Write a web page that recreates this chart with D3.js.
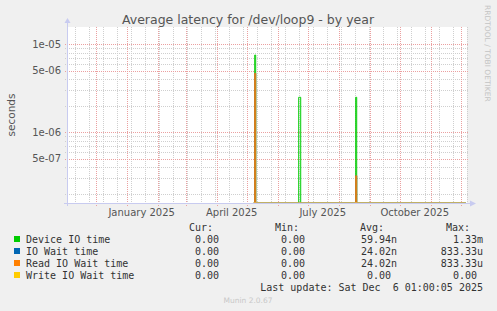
<!DOCTYPE html>
<html><head><meta charset="utf-8">
<script src="https://cdn.jsdelivr.net/npm/d3@7"></script>
<style>
html,body{margin:0;padding:0;background:#f0f0f0;}
svg{display:block;}
text{font-family:"DejaVu Sans",sans-serif;}
.mono{font-family:"DejaVu Sans Mono",monospace;font-size:10px;fill:#333;white-space:pre;}
</style></head>
<body>
<svg id="c" width="497" height="311"></svg>
<script>
// ---- data ----
const title = "Average latency for /dev/loop9 - by year";
const yLabel = "seconds";
const yTickValues = [5e-7, 1e-6, 5e-6, 1e-5];
const yTickLabels = ["5e-07", "1e-06", "5e-06", "1e-05"];
const xTickDates = ["2025-01-16", "2025-04-16", "2025-07-16", "2025-10-16"];
const xTickLabels = ["January 2025", "April 2025", "July 2025", "October 2025"];
const seriesNames = ["Device IO time", "IO Wait time", "Read IO Wait time", "Write IO Wait time"];
const seriesColors = ["#00cc00", "#0066b3", "#ff8000", "#ffcc00"];
const deviceIO = [["2025-05-08",0],["2025-05-09",7.55e-6],["2025-05-10",0],["2025-06-22",2.5e-6],["2025-06-23",2.5e-6],["2025-06-24",0],["2025-08-18",2.5e-6],["2025-08-19",0],["2025-12-06",0]];
const ioWait = [["2025-05-08",0],["2025-05-09",4.68e-6],["2025-05-10",0],["2025-08-18",3.21e-7],["2025-08-19",0],["2025-12-06",0]];
const readWait = [["2025-05-08",0],["2025-05-09",4.68e-6],["2025-05-10",0],["2025-08-18",3.21e-7],["2025-08-19",0],["2025-12-06",0]];
const writeWait = [["2025-05-08",0],["2025-12-06",0]];
const statCur = ["0.00", "0.00", "0.00", "0.00"];
const statMin = ["0.00", "0.00", "0.00", "0.00"];
const statAvg = ["59.94n", "24.02n", "24.02n", "0.00"];
const statMax = ["1.33m", "833.33u", "833.33u", "0.00"];
const lastUpdate = "Last update: Sat Dec  6 01:00:05 2025";
const footer = "Munin 2.0.67";

// ---- layout ----
const L = 67, R = 467, T = 27, B = 203;
const svg = d3.select("#c");
const parse = d3.timeParse("%Y-%m-%d");
const x = d3.scaleTime().domain([new Date(2024,10,2,7), new Date(2025,11,7,7)]).range([L, R]);
const yMin = 1.573e-7, yMax = 1.573e-5;
const y = d3.scaleLog().domain([yMin, yMax]).range([B, T]).clamp(true);

svg.append("rect").attr("x", L).attr("y", T).attr("width", R - L).attr("height", B - T).attr("fill", "#fff");

// minor horizontal grid
const minorY = [];
for (let e = -7; e <= -5; e++) for (let m = 1; m <= 9; m++) {
  const v = m * Math.pow(10, e);
  if (v >= yMin && v <= yMax && m !== 1 && m !== 5) minorY.push(v);
}
const g = svg.append("g");
g.selectAll(".hmin").data(minorY).enter().append("line")
  .attr("x1", L - 2).attr("x2", R + 2)
  .attr("y1", d => Math.round(y(d)) + 0.5).attr("y2", d => Math.round(y(d)) + 0.5)
  .attr("stroke", "#cfcfcf").attr("stroke-dasharray", "1,1");
// minor vertical grid: every 2 weeks on Sundays
const weeks = d3.timeSunday.every(2).range(new Date(2024,10,10), x.domain()[1]);
const sundays = d3.timeSunday.range(new Date(2024,10,10), x.domain()[1]).filter((d,i) => i % 2 === 0);
g.selectAll(".vmin").data(sundays).enter().append("line")
  .attr("x1", d => Math.round(x(d)) + 0.5).attr("x2", d => Math.round(x(d)) + 0.5)
  .attr("y1", T).attr("y2", B + 2)
  .attr("stroke", "#cfcfcf").attr("stroke-dasharray", "1,1");
// major horizontal grid
const majorY = [];
for (let e = -7; e <= -5; e++) for (const m of [1,5]) { const v = m*Math.pow(10,e); if (v>=yMin && v<=yMax) majorY.push(v); }
g.selectAll(".hmaj").data(majorY).enter().append("line")
  .attr("x1", L - 2).attr("x2", R + 2)
  .attr("y1", d => Math.round(y(d)) + 0.5).attr("y2", d => Math.round(y(d)) + 0.5)
  .attr("stroke", "#eba0a0").attr("stroke-dasharray", "1,1");
// major vertical grid: months
const months = d3.timeMonth.range(x.domain()[0], x.domain()[1]);
g.selectAll(".vmaj").data(months).enter().append("line")
  .attr("x1", d => Math.round(x(d)) + 0.5).attr("x2", d => Math.round(x(d)) + 0.5)
  .attr("y1", T).attr("y2", B + 3)
  .attr("stroke", "#eba0a0").attr("stroke-dasharray", "1,1");

// series
const line = d3.line()
  .x(d => x(parse(d[0])))
  .y(d => y(Math.max(d[1], yMin)))
  .curve(d3.curveStepAfter);
const allSeries = [deviceIO, ioWait, readWait, writeWait];
allSeries.forEach((s, i) => {
  svg.append("path").attr("d", line(s)).attr("fill", "none")
    .attr("stroke", i === 3 ? "#e0cc80" : seriesColors[i]).attr("stroke-width", 1);
});

// axes
const axisColor = "#c8cbf0";
svg.append("line").attr("x1", L + 0.5).attr("x2", L + 0.5).attr("y1", B + 3).attr("y2", T - 5).attr("stroke", axisColor);
svg.append("line").attr("x1", L - 3).attr("x2", R + 4).attr("y1", B + 0.5).attr("y2", B + 0.5).attr("stroke", axisColor);
svg.append("path").attr("d", `M${L-2.5},${T-4} L${L+3.5},${T-4} L${L+0.5},${T-9} Z`).attr("fill", axisColor);
svg.append("path").attr("d", `M${R+3},${B-2.5} L${R+3},${B+3.5} L${R+9},${B+0.5} Z`).attr("fill", axisColor);

// y tick labels
svg.selectAll(".yl").data(yTickValues).enter().append("text")
  .attr("x", 61).attr("y", d => y(d) + 3.5).attr("text-anchor", "end")
  .attr("font-size", 10).attr("fill", "#555")
  .text((d, i) => yTickLabels[i]);
// x tick labels
svg.selectAll(".xl").data(xTickDates).enter().append("text")
  .attr("x", d => x(parse(d))).attr("y", 216).attr("text-anchor", "middle")
  .attr("font-size", 10).attr("fill", "#555")
  .text((d, i) => xTickLabels[i]);

// title, y label, side label
svg.append("text").attr("x", 248).attr("y", 24).attr("text-anchor", "middle")
  .attr("font-size", 12.5).attr("fill", "#555").text(title);
svg.append("text").attr("transform", "translate(15,115) rotate(-90)").attr("text-anchor", "middle")
  .attr("font-size", 10.5).attr("fill", "#555").text(yLabel);
svg.append("text").attr("transform", "translate(485,5) rotate(90)").attr("text-anchor", "start")
  .attr("font-size", 7.5).attr("fill", "#c4c4c4").text("RRDTOOL / TOBI OETIKER");

// legend
const hdrY = 231, rowY0 = 243, rowH = 12;
const hdrEnds = [213, 299, 384, 470];
const valEnds = [225, 311, 397, 483];
["Cur:", "Min:", "Avg:", "Max:"].forEach((h, i) => {
  svg.append("text").attr("class", "mono").attr("x", hdrEnds[i]).attr("y", hdrY).attr("text-anchor", "end").text(h);
});
const cols = [statCur, statMin, statAvg, statMax];
seriesNames.forEach((n, r) => {
  const yy = rowY0 + r * rowH;
  svg.append("rect").attr("x", 14).attr("y", yy - 7).attr("width", 6).attr("height", 6).attr("fill", seriesColors[r]);
  svg.append("text").attr("class", "mono").attr("x", 26).attr("y", yy).text(n);
  cols.forEach((c, ci) => {
    const v = c[r];
    const hasUnit = /[a-zA-Z]$/.test(v);
    svg.append("text").attr("class", "mono").attr("x", valEnds[ci] - (hasUnit ? 0 : 6)).attr("y", yy)
      .attr("text-anchor", "end").text(v);
  });
});
svg.append("text").attr("class", "mono").attr("x", 483).attr("y", 291).attr("text-anchor", "end")
  .attr("xml:space", "preserve").text(lastUpdate);
svg.append("text").attr("x", 248).attr("y", 303).attr("text-anchor", "middle")
  .attr("font-size", 7.5).attr("fill", "#c8c8c8").text(footer);
</script>
</body></html>
